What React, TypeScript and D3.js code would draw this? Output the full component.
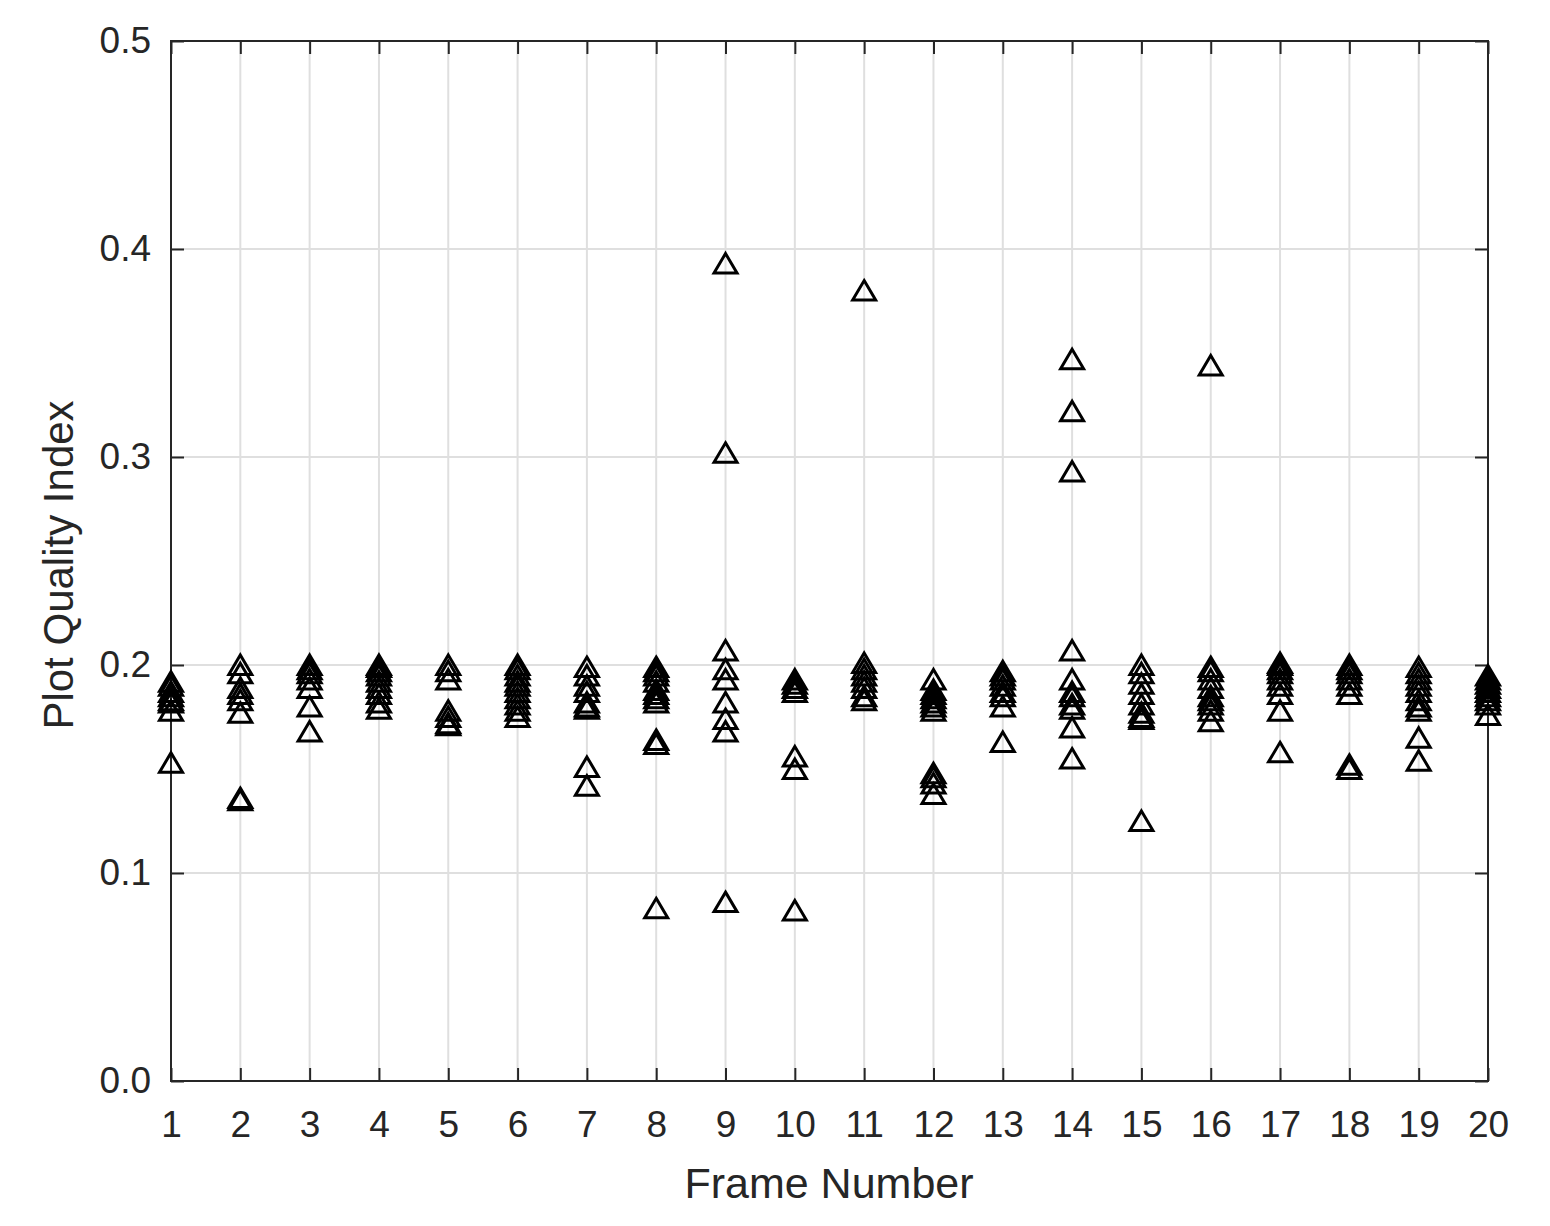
// App.tsx
import * as d3 from 'd3';
import React, { useEffect, useRef } from 'react';

// frame numbers on the x axis
const frameNumbers = d3.range(1, 21);

// plot quality index values read per frame
const qualityIndex: number[][] = [
  [0.192, 0.19, 0.187, 0.185, 0.183, 0.182, 0.178, 0.153],
  [0.2, 0.196, 0.189, 0.186, 0.183, 0.177, 0.136, 0.135],
  [0.2, 0.198, 0.196, 0.193, 0.189, 0.18, 0.168],
  [0.2, 0.199, 0.197, 0.195, 0.192, 0.189, 0.186, 0.182, 0.179],
  [0.2, 0.197, 0.193, 0.178, 0.175, 0.172, 0.171],
  [0.2, 0.198, 0.195, 0.192, 0.19, 0.187, 0.184, 0.181, 0.178, 0.175],
  [0.199, 0.195, 0.19, 0.187, 0.182, 0.18, 0.179, 0.151, 0.142],
  [0.199, 0.197, 0.195, 0.192, 0.188, 0.186, 0.184, 0.182, 0.164, 0.162, 0.083],
  [0.393, 0.302, 0.207, 0.198, 0.193, 0.182, 0.174, 0.168, 0.086],
  [0.193, 0.191, 0.189, 0.187, 0.156, 0.15, 0.082],
  [0.38, 0.201, 0.198, 0.195, 0.192, 0.189, 0.185, 0.183],
  [0.193, 0.188, 0.186, 0.184, 0.182, 0.18, 0.178, 0.148, 0.146, 0.143, 0.138],
  [0.197, 0.195, 0.193, 0.19, 0.187, 0.185, 0.18, 0.163],
  [0.347, 0.322, 0.293, 0.207, 0.193, 0.187, 0.185, 0.181, 0.179, 0.17, 0.155],
  [0.2, 0.196, 0.191, 0.186, 0.181, 0.177, 0.175, 0.174, 0.125],
  [0.344, 0.199, 0.197, 0.193, 0.189, 0.185, 0.183, 0.181, 0.178, 0.173],
  [0.201, 0.2, 0.198, 0.196, 0.193, 0.19, 0.186, 0.178, 0.158],
  [0.2, 0.198, 0.196, 0.193, 0.19, 0.186, 0.152, 0.15],
  [0.199, 0.196, 0.193, 0.19, 0.187, 0.183, 0.18, 0.178, 0.165, 0.154],
  [0.195, 0.193, 0.191, 0.189, 0.187, 0.185, 0.183, 0.181, 0.176],
];

const yTicks = [0, 0.1, 0.2, 0.3, 0.4, 0.5];

function App() {
  const ref = useRef<SVGSVGElement>(null);

  useEffect(() => {
    document.body.style.margin = '0';
    const W = 1550, H = 1226;
    const margin = { top: 41, right: 62, bottom: 145, left: 171 };
    const width = W - margin.left - margin.right;
    const height = H - margin.top - margin.bottom;
    const ink = '#262626';
    const font = '"Liberation Sans", Arial, sans-serif';

    const svg = d3.select(ref.current);
    svg.selectAll('*').remove();
    const g = svg.append('g').attr('transform', `translate(${margin.left},${margin.top})`);

    const x = d3.scaleLinear().domain([1, 20]).range([0, width]);
    const y = d3.scaleLinear().domain([0, 0.5]).range([height, 0]);

    // grid
    g.append('g')
      .selectAll('line.gx')
      .data(frameNumbers)
      .enter().append('line')
      .attr('x1', d => x(d)).attr('x2', d => x(d))
      .attr('y1', 0).attr('y2', height)
      .attr('stroke', '#dfdfdf').attr('stroke-width', 2);
    g.append('g')
      .selectAll('line.gy')
      .data(yTicks)
      .enter().append('line')
      .attr('x1', 0).attr('x2', width)
      .attr('y1', d => y(d)).attr('y2', d => y(d))
      .attr('stroke', '#dfdfdf').attr('stroke-width', 2);

    // axes, ticks pointing inward on all four sides
    const tick = 13;
    const styleAxis = (sel: any) => {
      sel.select('.domain').remove();
      sel.selectAll('line').attr('stroke', ink).attr('stroke-width', 2);
      sel.selectAll('text').attr('fill', ink).style('font-family', font).style('font-size', '37px');
    };
    g.append('g').attr('transform', `translate(0,${height})`)
      .call(d3.axisBottom(x).tickValues(frameNumbers).tickFormat(d3.format('d')).tickSizeInner(-tick).tickPadding(30))
      .call(styleAxis);
    g.append('g')
      .call(d3.axisLeft(y).tickValues(yTicks).tickFormat(d3.format('.1f')).tickSizeInner(-tick).tickPadding(20))
      .call(styleAxis);
    g.append('g')
      .call(d3.axisTop(x).tickValues(frameNumbers).tickFormat(() => '').tickSizeInner(-tick))
      .call(styleAxis);
    g.append('g').attr('transform', `translate(${width},0)`)
      .call(d3.axisRight(y).tickValues(yTicks).tickFormat(() => '').tickSizeInner(-tick))
      .call(styleAxis);

    g.append('rect')
      .attr('width', width).attr('height', height)
      .attr('fill', 'none').attr('stroke', ink).attr('stroke-width', 2);

    // triangle markers
    const points = qualityIndex.flatMap((vals, i) => vals.map(v => ({ f: frameNumbers[i], v })));
    const tri = 'M0,-10 L11.5,9.5 L-11.5,9.5 Z';
    g.append('g')
      .selectAll('path')
      .data(points)
      .enter().append('path')
      .attr('d', tri)
      .attr('transform', d => `translate(${x(d.f)},${y(d.v)})`)
      .attr('fill', 'none')
      .attr('stroke', '#000')
      .attr('stroke-width', 3);

    // axis labels
    svg.append('text')
      .attr('x', 829).attr('y', 1198)
      .attr('text-anchor', 'middle').attr('fill', ink)
      .style('font-family', font).style('font-size', '43px')
      .text('Frame Number');
    svg.append('text')
      .attr('transform', `translate(73,${margin.top + height / 2 + 4}) rotate(-90)`)
      .attr('text-anchor', 'middle').attr('fill', ink)
      .style('font-family', font).style('font-size', '42px')
      .text('Plot Quality Index');
  }, []);

  return <svg ref={ref} width={1550} height={1226} style={{ display: 'block', background: '#fff' }} />;
}

export default App;
